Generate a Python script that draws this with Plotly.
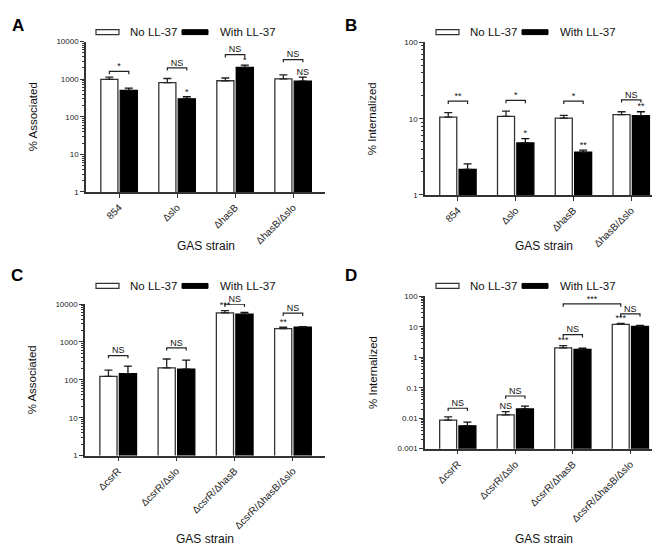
import plotly.graph_objects as go

# ---------------- data ----------------
top_categories = ["854", "Δslo", "ΔhasB", "ΔhasB/Δslo"]
bottom_categories = ["ΔcsrR", "ΔcsrR/Δslo", "ΔcsrR/ΔhasB", "ΔcsrR/ΔhasB/Δslo"]
series_names = ["No LL-37", "With LL-37"]

# y tick labels
assoc_ticks = [1, 10, 100, 1000, 10000]
assoc_ticktext = ["1", "10", "100", "1000", "10000"]
intB_ticks = [1, 10, 100]
intB_ticktext = ["1", "10", "100"]
intD_ticks = [0.001, 0.01, 0.1, 1, 10, 100]
intD_ticktext = ["0.001", "0.01", "0.1", "1", "10", "100"]

# Panel A: % Associated
A_no = [990, 810, 905, 1020]
A_no_top = [1130, 1040, 1070, 1300]
A_with = [500, 300, 2050, 890]
A_with_top = [575, 340, 2350, 1130]

# Panel B: % Internalized
B_no = [10.5, 10.7, 10.15, 11.3]
B_no_top = [12.0, 12.6, 11.05, 12.35]
B_with = [2.17, 4.8, 3.63, 11.0]
B_with_top = [2.55, 5.47, 3.88, 12.35]

# Panel C: % Associated
C_no = [124, 208, 5850, 2260]
C_no_top = [181, 355, 6740, 2450]
C_with = [146, 192, 5400, 2450]
C_with_top = [230, 330, 6050, 2520]

# Panel D: % Internalized
D_no = [0.0086, 0.0128, 2.01, 11.9]
D_no_top = [0.011, 0.0165, 2.4, 12.9]
D_with = [0.0056, 0.020, 1.82, 10.2]
D_with_top = [0.0074, 0.025, 1.98, 11.0]

# significance brackets: (group, level, label)
A_brackets = [(0, 1600, "*"), (1, 2000, "NS"), (2, 4470, "NS"), (3, 3310, "NS")]
B_brackets = [(0, 17.0, "**"), (1, 17.4, "*"), (2, 17.0, "*"), (3, 17.7, "NS")]
C_brackets = [(0, 437, "NS"), (1, 700, "NS"), (2, 9900, "NS"), (3, 5750, "NS")]
D_brackets = [(0, 0.0212, "NS"), (1, 0.0535, "NS"), (2, 5.48, "NS"), (3, 26.5, "NS")]
D_long = [(2, 3, 56.0, "***")]  # open bar of group 2 to open bar of group 3
# single marks above error bars: (series index, group, label)
A_marks = [(1, 1, "*"), (1, 2, "*"), (1, 3, "NS")]
B_marks = [(1, 1, "*"), (1, 2, "**"), (1, 3, "**")]
C_marks = [(0, 2, "***"), (0, 3, "**")]
D_marks = [(0, 1, "NS"), (0, 2, "***"), (0, 3, "***")]

# ---------------- layout helpers ----------------
W, H = 660, 546
FONT = "Liberation Sans, Arial, sans-serif"
AX = "#333333"
TXT = "#111111"


def px_x(x):
    return x / W


def px_y(y):
    return 1 - y / H


panels = [
    dict(key="A", cats=top_categories, no=A_no, no_top=A_no_top, wi=A_with, wi_top=A_with_top,
         ylabel="% Associated", yr=[0, 4], tv=assoc_ticks, tt=assoc_ticktext, stand=16,
         box=(78, 317, 30, 183), br=A_brackets, mk=A_marks, longbr=[],
         letter=(10, 14), leg_y=20.5, xtitle_y=238),
    dict(key="B", cats=top_categories, no=B_no, no_top=B_no_top, wi=B_with, wi_top=B_with_top,
         ylabel="% Internalized", yr=[0, 2], tv=intB_ticks, tt=intB_ticktext, stand=25,
         box=(417, 655, 31, 186), br=B_brackets, mk=B_marks, longbr=[],
         letter=(343, 14), leg_y=20.5, xtitle_y=238),
    dict(key="C", cats=bottom_categories, no=C_no, no_top=C_no_top, wi=C_with, wi_top=C_with_top,
         ylabel="% Associated", yr=[0, 4], tv=assoc_ticks, tt=assoc_ticktext, stand=16,
         box=(77, 317, 297, 451), br=C_brackets, mk=C_marks, longbr=[],
         letter=(9, 268), leg_y=278.5, xtitle_y=536),
    dict(key="D", cats=bottom_categories, no=D_no, no_top=D_no_top, wi=D_with, wi_top=D_with_top,
         ylabel="% Internalized", yr=[-3, 2], tv=intD_ticks, tt=intD_ticktext, stand=18,
         box=(417, 654, 289, 444), br=D_brackets, mk=D_marks, longbr=D_long,
         letter=(343, 268), leg_y=278.5, xtitle_y=536),
]

BARGAP = 0.33
BARGROUPGAP = 0.12
OFF = (1 - BARGAP) / 4.0  # offset of each bar centre from the group centre
XR = [-0.57, 3.55]

fig = go.Figure()
shapes = []
annotations = []

for i, p in enumerate(panels):
    n = "" if i == 0 else str(i + 1)
    xa, ya = "x" + n, "y" + n
    groups = list(range(len(p["cats"])))
    x0, x1, yt, yb = p["box"]
    ppd = (yb - yt) / (p["yr"][1] - p["yr"][0])  # pixels per decade
    drop = 10 ** (-2.8 / ppd)

    fig.add_trace(go.Bar(
        x=groups, y=p["no"], name=series_names[0], xaxis=xa, yaxis=ya, offsetgroup="a",
        marker=dict(color="white", line=dict(color=AX, width=1.3)),
        error_y=dict(type="data", symmetric=False,
                     array=[t - v for t, v in zip(p["no_top"], p["no"])],
                     arrayminus=[0] * len(groups), color="#222", thickness=1.3, width=4),
        showlegend=False, hoverinfo="skip"))
    fig.add_trace(go.Bar(
        x=groups, y=p["wi"], name=series_names[1], xaxis=xa, yaxis=ya, offsetgroup="b",
        marker=dict(color="black", line=dict(color="black", width=1.3)),
        error_y=dict(type="data", symmetric=False,
                     array=[t - v for t, v in zip(p["wi_top"], p["wi"])],
                     arrayminus=[0] * len(groups), color="#111", thickness=1.3, width=4),
        showlegend=False, hoverinfo="skip"))

    # brackets
    bx, by, tx, ty, tt = [], [], [], [], []
    for g, lvl, lab in p["br"]:
        bx += [g - OFF, g - OFF, g + OFF, g + OFF, None]
        by += [lvl * drop, lvl, lvl, lvl * drop, None]
        tx.append(g); ty.append(lvl); tt.append(lab)
    for g0, g1, lvl, lab in p["longbr"]:
        bx += [g0 - OFF, g0 - OFF, g1 - OFF, g1 - OFF, None]
        by += [lvl * drop, lvl, lvl, lvl * drop, None]
        tx.append((g0 + g1) / 2 - OFF); ty.append(lvl); tt.append(lab)
    fig.add_trace(go.Scatter(x=bx, y=by, mode="lines", xaxis=xa, yaxis=ya, cliponaxis=False,
                             line=dict(color="#222", width=1.2), showlegend=False, hoverinfo="skip"))
    fig.add_trace(go.Scatter(x=tx, y=ty, mode="text", text=tt, textposition="top center",
                             cliponaxis=False,
                             textfont=dict(family=FONT, size=9, color=[TXT] * len(tt)),
                             xaxis=xa, yaxis=ya, showlegend=False, hoverinfo="skip"))
    # single marks above error bars
    mx, my, mt = [], [], []
    for s, g, lab in p["mk"]:
        tops = p["no_top"] if s == 0 else p["wi_top"]
        mx.append(g + (-OFF if s == 0 else OFF)); my.append(tops[g]); mt.append(lab)
    fig.add_trace(go.Scatter(x=mx, y=my, mode="text", text=mt, textposition="top center",
                             cliponaxis=False,
                             textfont=dict(family=FONT, size=9, color=[TXT] * len(mt)),
                             xaxis=xa, yaxis=ya, showlegend=False, hoverinfo="skip"))

    fig.update_layout({
        "xaxis" + n: dict(domain=[px_x(x0), px_x(x1)], anchor=ya, range=XR,
                          tickmode="array", tickvals=groups, ticktext=p["cats"], tickangle=-45,
                          showline=True, linecolor=AX, linewidth=1.5, ticks="outside", ticklen=4,
                          tickwidth=1.2, tickcolor=AX, showgrid=False, zeroline=False,
                          tickfont=dict(family=FONT, size=10, color="#222")),
        "yaxis" + n: dict(domain=[px_y(yb), px_y(yt)], anchor=xa, type="log", range=p["yr"],
                          tickmode="array", tickvals=p["tv"], ticktext=p["tt"],
                          showline=True, linecolor=AX, linewidth=1.5, ticks="outside", ticklen=4,
                          tickwidth=1.2, tickcolor=AX, showgrid=False, zeroline=False,
                          minor=dict(ticks="outside", ticklen=2, tickwidth=0.8, tickcolor=AX,
                                     dtick="D1", showgrid=False),
                          tickfont=dict(family=FONT, size=8, color="#222"),
                          title=dict(text=p["ylabel"], font=dict(family=FONT, size=11.5, color=TXT),
                                     standoff=p["stand"])),
    })

    # x-axis title
    annotations.append(dict(text="GAS strain", x=px_x((x0 + x1) / 2), y=px_y(p["xtitle_y"]),
                            xref="paper", yref="paper", showarrow=False,
                            font=dict(family=FONT, size=12, color=TXT), xanchor="center", yanchor="middle"))
    # panel letter
    lx, ly = p["letter"]
    annotations.append(dict(text="<b>%s</b>" % p["key"], x=px_x(lx), y=px_y(ly), xref="paper", yref="paper",
                            showarrow=False, font=dict(family=FONT, size=17, color="black"),
                            xanchor="center", yanchor="middle"))
    # legend swatches and labels
    off = 0 if x0 < 300 else 340
    ly = p["leg_y"]
    shapes.append(dict(type="rect", xref="paper", yref="paper",
                       x0=px_x(88 + off), x1=px_x(111 + off), y0=px_y(ly + 2.5), y1=px_y(ly - 2.5),
                       fillcolor="white", line=dict(color=AX, width=1.2)))
    shapes.append(dict(type="rect", xref="paper", yref="paper",
                       x0=px_x(174 + off), x1=px_x(200 + off), y0=px_y(ly + 2.5), y1=px_y(ly - 2.5),
                       fillcolor="black", line=dict(color="black", width=1)))
    annotations.append(dict(text=series_names[0], x=px_x(120 + off), y=px_y(ly), xref="paper", yref="paper",
                            showarrow=False, xanchor="left", yanchor="middle",
                            font=dict(family=FONT, size=11.5, color=TXT)))
    annotations.append(dict(text=series_names[1], x=px_x(210 + off), y=px_y(ly), xref="paper", yref="paper",
                            showarrow=False, xanchor="left", yanchor="middle",
                            font=dict(family=FONT, size=11.5, color=TXT)))

fig.update_layout(
    width=W, height=H, margin=dict(l=0, r=0, t=0, b=0),
    paper_bgcolor="white", plot_bgcolor="white",
    barmode="group", bargap=BARGAP, bargroupgap=BARGROUPGAP,
    shapes=shapes, annotations=annotations, showlegend=False,
    font=dict(family=FONT, color=TXT),
)

fig.write_html("out.html")
